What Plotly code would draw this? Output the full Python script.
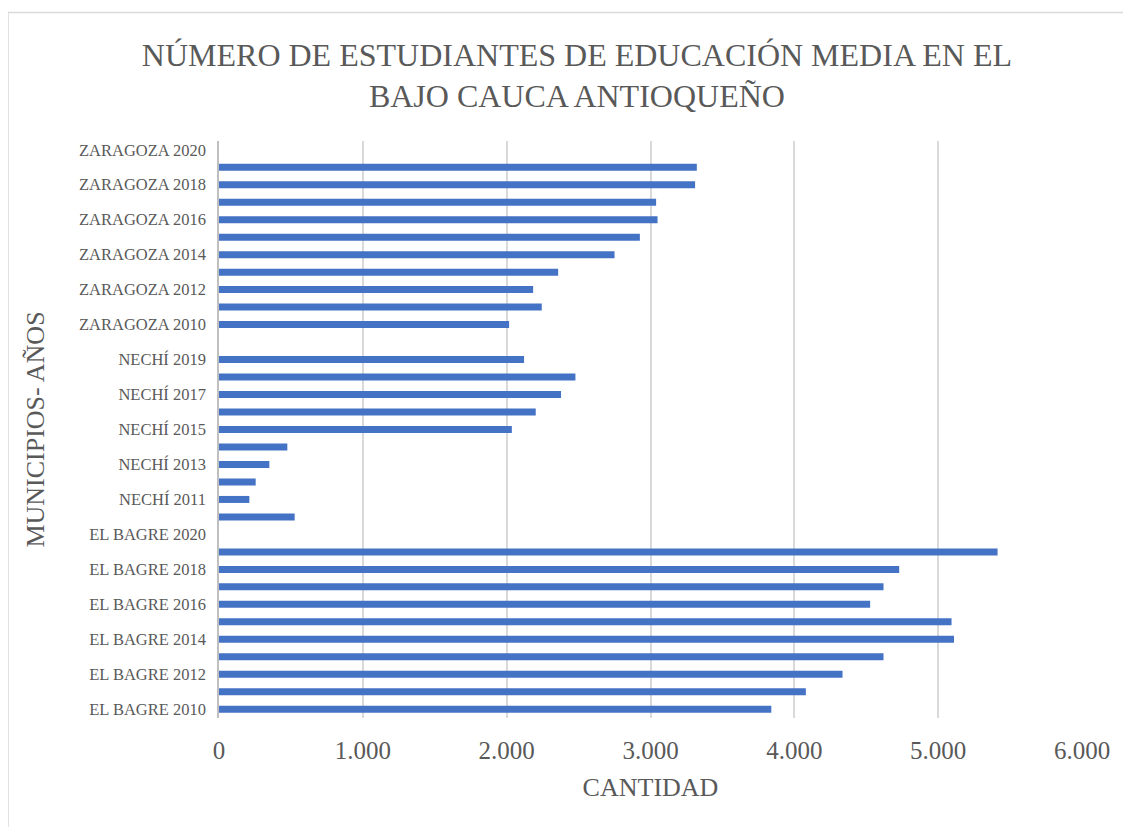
"""Número de estudiantes de educación media en el Bajo Cauca antioqueño.

Horizontal bar chart, one bar per municipio/año (Excel-style look).
"""

import plotly.graph_objects as go

# Data
MUNICIPIOS = ["EL BAGRE", "NECHÍ", "ZARAGOZA"]
YEARS = list(range(2010, 2021))

EL_BAGRE = [3840, 4080, 4335, 4620, 5110, 5093, 4527, 4620, 4729, 5413, None]
NECHI = [526, 211, 255, 350, 475, 2036, 2202, 2378, 2478, 2121, None]
ZARAGOZA = [2017, 2244, 2184, 2358, 2750, 2926, 3049, 3039, 3310, 3322, None]

X_TICKS = [0, 1000, 2000, 3000, 4000, 5000, 6000]

TITLE_LINES = ["NÚMERO DE ESTUDIANTES DE EDUCACIÓN MEDIA EN EL", "BAJO CAUCA ANTIOQUEÑO"]

TEXT_COLOR = "#595959"
GRID_COLOR = "#D9D9D9"
BAR_COLOR = "#4472C4"
FONT = "Times New Roman, Liberation Serif, serif"

# Build categories and values (bottom to top)
categories = []
values = []
for municipio, series in zip(MUNICIPIOS, [EL_BAGRE, NECHI, ZARAGOZA]):
    for year, val in zip(YEARS, series):
        categories.append(f"{municipio} {year}")
        values.append(val)

# Excel shows every other category label
shown_labels = categories[::2]

fig = go.Figure()

fig.add_trace(
    go.Bar(
        x=values,
        y=categories,
        orientation="h",
        marker=dict(color=BAR_COLOR, line=dict(width=0)),
        hovertemplate="%{y}: %{x:,}<extra></extra>",
    )
)

fig.update_layout(
    width=1131,
    height=827,
    font=dict(family=FONT, color=TEXT_COLOR),
    title=dict(
        text="<br>".join(TITLE_LINES),
        x=0.503,
        xanchor="center",
        y=0.93,
        yanchor="middle",
        font=dict(family=FONT, size=32, color=TEXT_COLOR),
    ),
    xaxis=dict(
        range=[0, 6000],
        tickvals=X_TICKS,
        tickformat=",d",
        showgrid=True,
        gridcolor=GRID_COLOR,
        gridwidth=1.5,
        zeroline=False,
        showline=False,
        ticks="",
        ticklabelstandoff=15,
        tickfont=dict(family=FONT, size=25, color=TEXT_COLOR),
        title=dict(
            text="CANTIDAD",
            font=dict(family=FONT, size=26, color=TEXT_COLOR),
            standoff=14,
        ),
    ),
    yaxis=dict(
        type="category",
        categoryorder="array",
        categoryarray=categories,
        tickmode="array",
        tickvals=shown_labels,
        ticktext=shown_labels,
        showgrid=False,
        showline=True,
        linecolor="#BFBFBF",
        linewidth=1.5,
        ticks="",
        ticklabelstandoff=8,
        tickfont=dict(family=FONT, size=16.5, color=TEXT_COLOR),
        title=dict(
            text="MUNICIPIOS- AÑOS",
            font=dict(family=FONT, size=26, color=TEXT_COLOR),
            standoff=27,
        ),
    ),
    bargap=0.6,
    separators=",.",
    showlegend=False,
    # page has an 8px body margin, so margins are offset to land on the reference
    margin=dict(l=211, r=57, t=133, b=117),
    plot_bgcolor="white",
    paper_bgcolor="white",
    shapes=[
        # thin chart-area frame like the Excel export
        dict(
            type="rect",
            xref="paper",
            yref="paper",
            x0=-0.2445,
            x1=1.08,
            y0=-0.3,
            y1=1.2226,
            line=dict(color=GRID_COLOR, width=1.5),
            fillcolor="rgba(0,0,0,0)",
            layer="below",
        )
    ],
)

fig.write_html("out.html")
